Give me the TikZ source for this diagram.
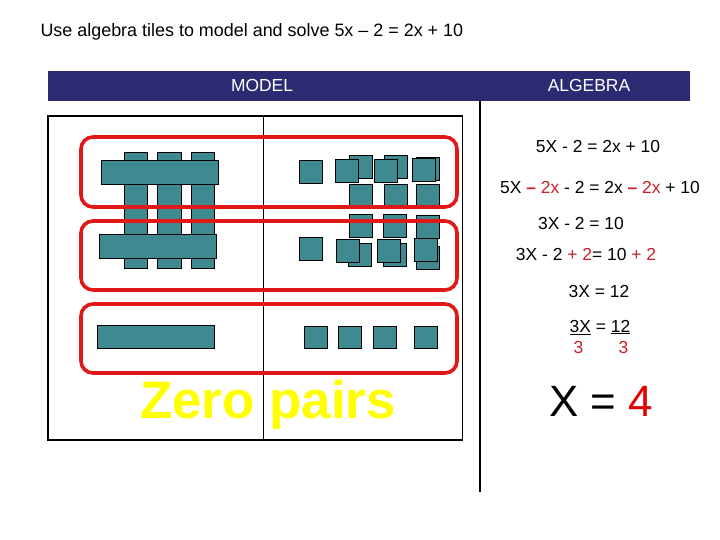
\documentclass[tikz,border=0pt]{standalone}
\usepackage{fontspec}
\setmainfont{Liberation Sans}
\usepackage{tikz}
\usetikzlibrary{positioning}
\definecolor{tileTeal} {HTML}{3F8A90}
\definecolor{barNavy}  {HTML}{2B2A72}
\definecolor{ringRed}  {HTML}{E01818}
\definecolor{termRed}  {HTML}{C8202A}
\definecolor{zeroYel}  {HTML}{FFFF00}
\newcommand{\redterm}[1]{\textcolor{termRed}{#1}}
\tikzset{
  tile/.style={fill=tileTeal, draw=black, line width=1bp},
  ring/.style={draw=ringRed, line width=3.6bp, rounded corners=12bp},
  eqn/.style={anchor=base, font=\fontsize{17.5}{20}\selectfont},
}

\begin{document}
\begin{tikzpicture}[x=1bp, y=-1bp]
  \useasboundingbox (0,0) rectangle (720,540);
  \node[anchor=base west, font=\fontsize{18}{20}\selectfont] (title) at (37,37)
       {Use algebra tiles to model and solve 5x -- 2 = 2x + 10};
  % header bar and frames
  \fill[barNavy] (48,71) rectangle (690,101);
  \node[eqn, text=white] (model) at (262,92) {MODEL};
  \node[eqn, text=white] (algebra) at (589,92) {ALGEBRA};
  \draw[line width=1.3bp] (480,101) -- (480,492);
  \draw[line width=1.3bp] (48,116) rectangle (462.5,440);
  \draw[line width=1bp] (263.5,116) -- (263.5,440);
  % x tiles
  \foreach \i in {0,1,2}{
    \draw[tile] (124.5+33.3*\i,152.3) rectangle ++(23.3,116);
  }
  \foreach \x/\y in {101/161,99/235,97.3/325}{
    \draw[tile] (\x,\y) rectangle ++(117,23.3);
  }
  % unit tiles
  \foreach \x/\y in {299/161,349.3/156,384.3/156,416.7/157.3,
                     335/159.3,374.3/159.3,412.3/158.3,
                     349.3/185,384.3/185,416/185,
                     349/215,383.5/215,416/215.5,
                     299/237.3,348.3/243.3,383.3/243.3,416/246.7,
                     336/239.3,377.3/239.3,414/238.3,
                     304.3/326,338.3/326,373.3/326,414.3/326}{
    \draw[tile] (\x,\y) rectangle ++(23,22.8);
  }
  % zero pair rings
  \foreach \t/\b in {137/207,221/290,304/373}{
    \draw[ring] (81,\t) rectangle (457,\b);
  }
  \node[anchor=base, text=zeroYel, font=\fontsize{53}{60}\selectfont\bfseries] (zero) at (268,418) {Zero pairs};
  % algebra steps
  \node[eqn] (s1) at (598,152.5) {5X - 2 = 2x + 10};
  \node[eqn] (s2) at (600,194) {5X \redterm{\textbf{--} 2x} - 2 = 2x \redterm{\textbf{--} 2x} + 10};
  \node[eqn] (s3) at (581,230) {3X - 2 = 10};
  \node[eqn] (s4) at (586,261) {3X - 2 \redterm{+ 2}= 10 \redterm{+ 2}};
  \node[eqn] (s5) at (599,297) {3X = 12};
  \node[eqn] (s6) at (600,332.3) {\underline{3X} = \underline{12}};
  \node[eqn, text=termRed] (d1) at (578.5,353.3) {3};
  \node[eqn, text=termRed] (d2) at (623.5,353.3) {3};
  \node[anchor=base, font=\fontsize{44}{50}\selectfont] (ans) at (601,416)
       {X = \textcolor{red!90!black}{4}};
\end{tikzpicture}
\end{document}
